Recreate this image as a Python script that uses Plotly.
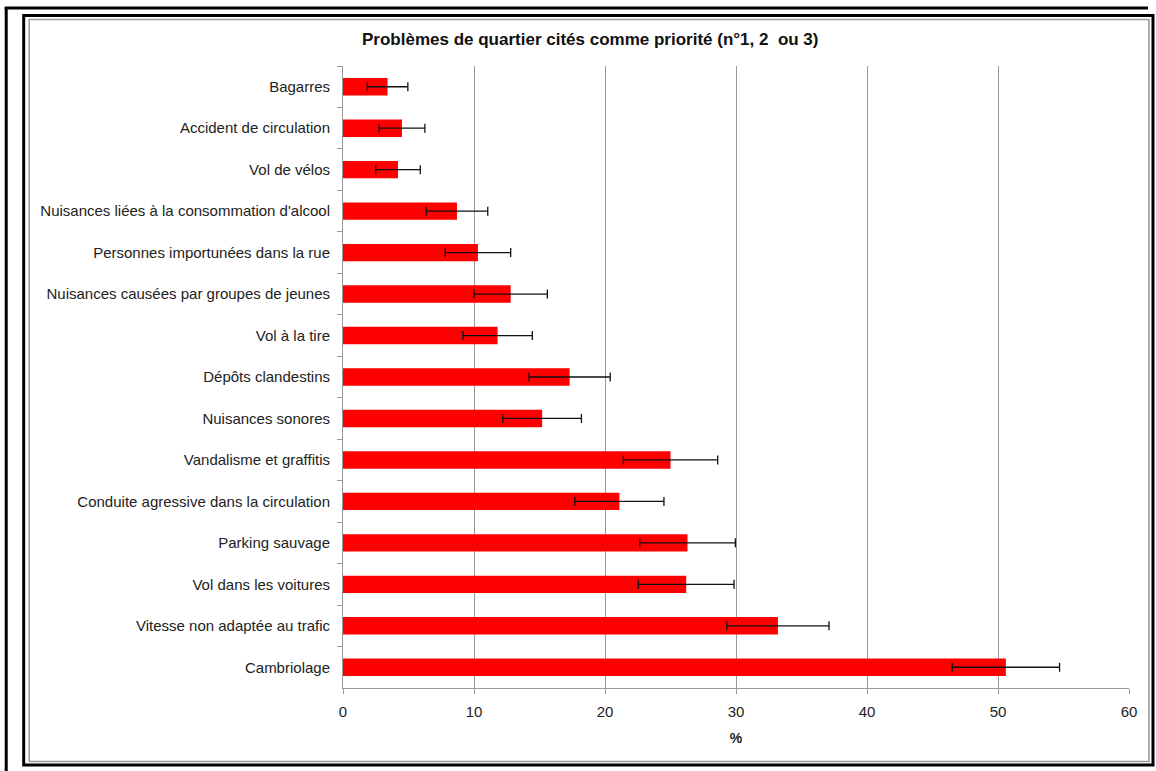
import plotly.graph_objects as go

categories = [
    "Bagarres",
    "Accident de circulation",
    "Vol de vélos",
    "Nuisances liées à la consommation d'alcool",
    "Personnes importunées dans la rue",
    "Nuisances causées par groupes de jeunes",
    "Vol à la tire",
    "Dépôts clandestins",
    "Nuisances sonores",
    "Vandalisme et graffitis",
    "Conduite agressive dans la circulation",
    "Parking sauvage",
    "Vol dans les voitures",
    "Vitesse non adaptée au trafic",
    "Cambriolage",
]
values = [3.4, 4.5, 4.2, 8.7, 10.3, 12.8, 11.8, 17.3, 15.2, 25.0, 21.1, 26.3, 26.2, 33.2, 50.6]
errors = [1.55, 1.75, 1.7, 2.35, 2.5, 2.8, 2.65, 3.1, 3.0, 3.6, 3.4, 3.65, 3.65, 3.9, 4.1]
x_ticks = [0, 10, 20, 30, 40, 50, 60]

W, H = 1156, 771
L, R, T, B = 342.5, 1129, 66, 688


def px(x):
    return (x - L) / (R - L)


def py(y):
    return (B - y) / (B - T)


fig = go.Figure()
fig.add_trace(go.Bar(
    y=categories, x=values, orientation="h",
    marker=dict(color="#ff0000", line=dict(width=0)),
    width=0.42,
    error_x=dict(type="data", array=errors, color="#111111", thickness=1.3, width=4.5),
    showlegend=False,
))

font = "Liberation Sans, Arial, sans-serif"
fig.update_layout(
    width=W, height=H,
    margin=dict(l=L, r=W - R, t=T, b=H - B),
    paper_bgcolor="white", plot_bgcolor="white",
    font=dict(family=font, size=15, color="#222"),
    xaxis=dict(
        range=[0, 60], tickvals=x_ticks, showgrid=True, gridcolor="#999", gridwidth=1,
        showline=True, linecolor="#999", linewidth=1, ticks="outside", ticklen=5,
        tickcolor="#999", zeroline=False, tickfont=dict(size=15, color="#222"),
        ticklabelstandoff=5,
        title=dict(text="<b>%</b>", font=dict(size=14, color="#222"), standoff=14),
    ),
    yaxis=dict(
        autorange="reversed", showline=True, linecolor="#999", linewidth=1,
        ticks="outside", ticklen=5, tickcolor="#999", tickson="boundaries",
        showgrid=False, tickfont=dict(size=15, color="#222"), ticklabelstandoff=9,
    ),
    annotations=[dict(
        text="<b>Problèmes de quartier cités comme priorité (n°1, 2  ou 3)</b>",
        x=px(590.5), y=py(39), xref="paper", yref="paper", showarrow=False,
        font=dict(size=17, color="#111", family=font), xanchor="center", yanchor="middle",
    )],
    shapes=[
        dict(type="line", xref="paper", yref="paper", x0=px(4), x1=px(1148), y0=py(8), y1=py(8),
             line=dict(color="black", width=3)),
        dict(type="line", xref="paper", yref="paper", x0=px(5.5), x1=px(5.5), y0=py(7), y1=py(771),
             line=dict(color="black", width=3)),
        dict(type="rect", xref="paper", yref="paper", x0=px(23), x1=px(1153), y0=py(15.5), y1=py(765),
             line=dict(color="black", width=3)),
        dict(type="rect", xref="paper", yref="paper", x0=px(28.5), x1=px(1149), y0=py(19.5), y1=py(761.5),
             line=dict(color="#999", width=1.5)),
    ],
)

fig.write_html(
    "out.html",
    config={"displayModeBar": False},
    post_script="document.body.style.margin='0px';document.body.style.overflow='hidden';",
)
